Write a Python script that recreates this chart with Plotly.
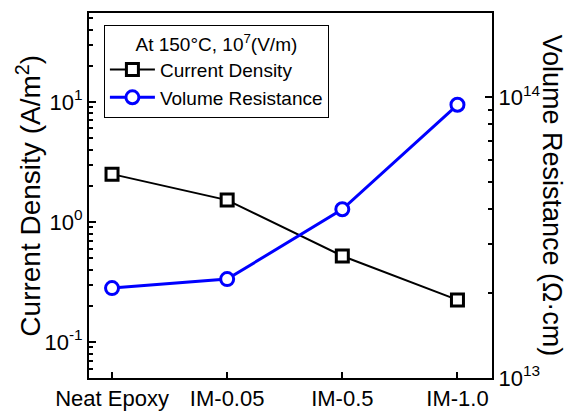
import plotly.graph_objects as go

categories = ["Neat Epoxy", "IM-0.05", "IM-0.5", "IM-1.0"]
current_density = [2.5, 1.52, 0.52, 0.224]
volume_resistance = [2.09e13, 2.25e13, 3.99e13, 9.4e13]

left_ticks = [0.1, 1, 10]
left_ticktext = ["10<sup>-1</sup>", "10<sup>0</sup>", "10<sup>1</sup>"]
right_ticks = [1e13, 1e14]
right_ticktext = ["10<sup>13</sup>", "10<sup>14</sup>"]

FONT = "Arial, Liberation Sans, sans-serif"

left_minor = [k * 10.0 ** e for e in range(-2, 2) for k in range(2, 10)]
right_minor = [k * 10.0 ** e for e in range(13, 14) for k in range(2, 10)] + [2e14]

fig = go.Figure()
fig.add_trace(go.Scatter(
    x=categories, y=current_density, name="Current Density", mode="lines+markers",
    line=dict(color="black", width=2),
    marker=dict(symbol="square", size=12, color="white", line=dict(width=3, color="black")),
    yaxis="y"))
fig.add_trace(go.Scatter(
    x=categories, y=volume_resistance, name="Volume Resistance", mode="lines+markers",
    line=dict(color="#0000FF", width=3),
    marker=dict(symbol="circle", size=13, color="white", line=dict(width=3, color="#0000FF")),
    yaxis="y2"))

fig.update_layout(
    width=571, height=412,
    margin=dict(l=89, r=79, t=13, b=34),
    paper_bgcolor="white", plot_bgcolor="white",
    font=dict(family=FONT, color="black"),
    showlegend=True,
    legend=dict(
        x=0.037, y=0.967, xanchor="left", yanchor="top",
        bgcolor="white", bordercolor="black", borderwidth=1,
        font=dict(size=19, family=FONT, color="black"),
        title=dict(text="At 150°C, 10<sup>7</sup>(V/m)", side="top center",
                   font=dict(size=19, family=FONT, color="black")),
        itemwidth=45, tracegroupgap=0,
    ),
    xaxis=dict(
        type="category", range=[-0.2, 3.3], automargin=False,
        showline=True, linecolor="black", linewidth=2, mirror=True,
        ticks="inside", ticklen=6, tickwidth=2, tickcolor="black",
        showgrid=False, zeroline=False,
        tickfont=dict(size=22, family=FONT, color="black"),
    ),
    yaxis=dict(
        type="log", range=[-1.30, 1.74], automargin=False,
        tickvals=left_ticks, ticktext=left_ticktext,
        showline=True, linecolor="black", linewidth=2,
        ticks="inside", ticklen=7, tickwidth=2, tickcolor="black",
        minor=dict(tickvals=left_minor, ticks="inside", ticklen=4, tickwidth=1.5, tickcolor="black", showgrid=False),
        showgrid=False, zeroline=False,
        tickfont=dict(size=22, family=FONT, color="black"),
    ),
    yaxis2=dict(
        type="log", range=[13, 14.30], overlaying="y", side="right", anchor="x", automargin=False,
        tickvals=right_ticks, ticktext=right_ticktext,
        showline=True, linecolor="black", linewidth=2,
        ticks="inside", ticklen=7, tickwidth=2, tickcolor="black",
        minor=dict(tickvals=right_minor, ticks="inside", ticklen=4, tickwidth=1.5, tickcolor="black", showgrid=False),
        showgrid=False, zeroline=False,
        tickfont=dict(size=22, family=FONT, color="black"),
    ),
    annotations=[
        dict(text="Current Density (A/m<sup>2</sup>)", xref="paper", yref="paper",
             x=-0.151, y=0.5, xanchor="center", yanchor="middle", textangle=-90, showarrow=False,
             font=dict(size=28, family=FONT, color="black")),
        dict(text="Volume Resistance (Ω·cm)", xref="paper", yref="paper",
             x=1.149, y=0.5, xanchor="center", yanchor="middle", textangle=90, showarrow=False,
             font=dict(size=27, family=FONT, color="black")),
    ],
)

fig.write_html("out.html")
